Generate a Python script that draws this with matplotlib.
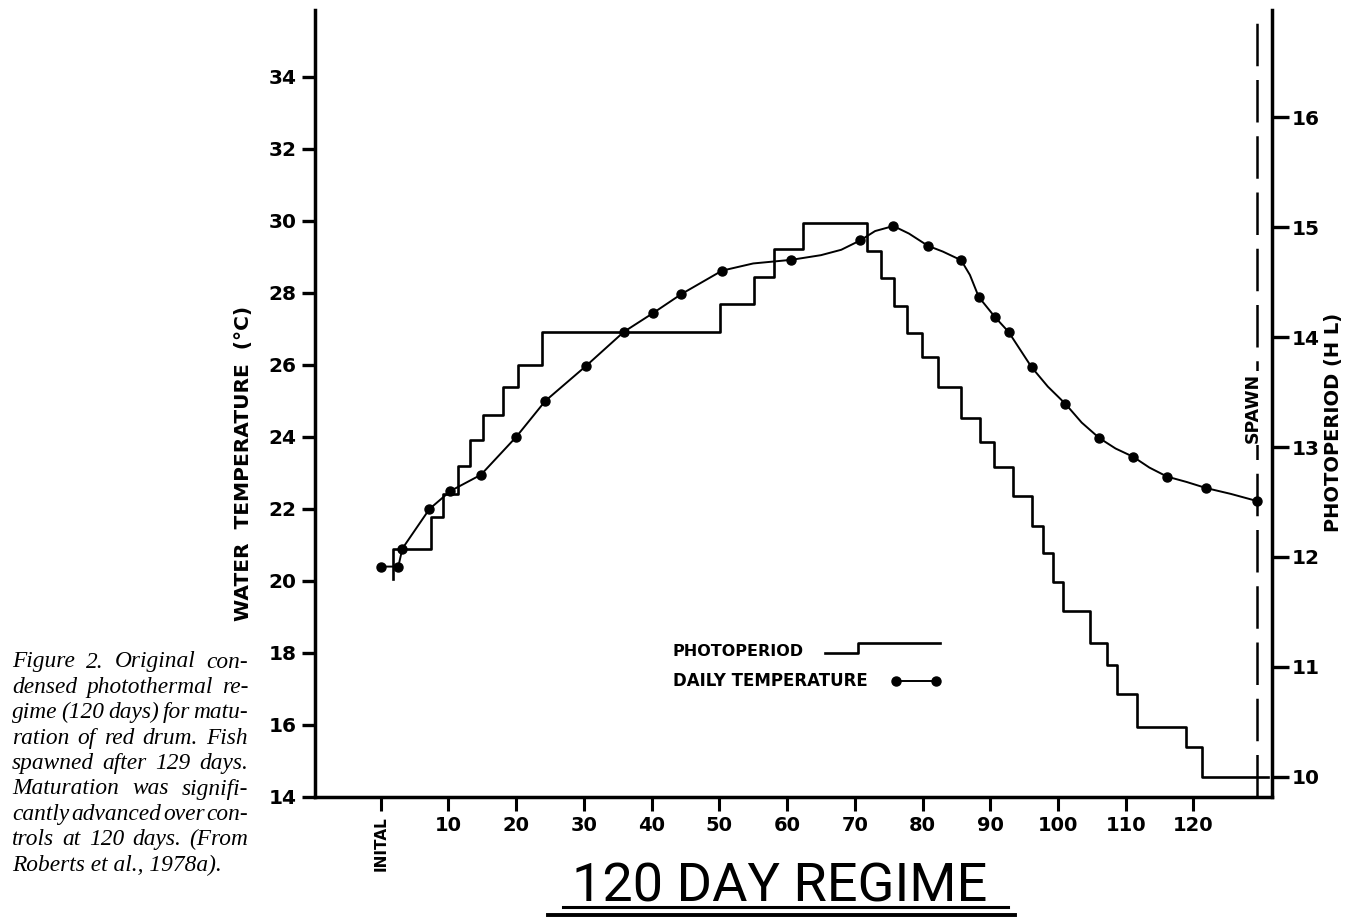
import matplotlib
matplotlib.use('Agg')
import matplotlib.pyplot as plt
from matplotlib.lines import Line2D

W, H = 1361, 919

# ---------------- data ----------------
# daily temperature measurement dots
temp_days = [0, 2.6, 3.2, 7.2, 10.3, 14.8, 20.0, 24.3, 30.3, 35.9, 40.2, 44.4, 50.4, 60.6,
             70.8, 75.7, 80.8, 85.7, 88.3, 90.7, 92.7, 96.1, 101.1, 106.1, 111.1, 116.1,
             121.9, 129.4]
temp_c = [20.4, 20.4, 20.9, 22.0, 22.5, 22.95, 24.0, 25.0, 25.97, 26.92, 27.44, 27.97,
          28.62, 28.92, 29.46, 29.86, 29.31, 28.91, 27.89, 27.33, 26.92, 25.94, 24.92,
          23.97, 23.45, 22.9, 22.58, 22.22]

# extra points
curve_days = [55.0, 65.0, 68.0, 73.0, 78.0, 83.0, 87.0, 98.5, 103.5, 108.5, 113.5,
              119.0, 125.5]
curve_c = [28.82, 29.05, 29.2, 29.72, 29.65, 29.15, 28.5, 25.4, 24.4, 23.68, 23.15,
           22.75, 22.42]

photo_days = [1.8, 1.8, 7.4, 9.2, 11.4, 13.2, 15.1, 18.1, 20.3, 23.8, 50.1, 55.1, 58.1,
              62.4, 71.8, 73.9, 75.8, 77.7, 79.9, 82.3, 85.7, 88.5, 90.6, 93.3, 96.2,
              97.8, 99.2, 100.8, 104.8, 107.3, 108.7, 111.7, 118.9, 121.3, 131.0]
photo_hours = [11.8, 12.07, 12.36, 12.57, 12.83, 13.06, 13.29, 13.55, 13.75, 14.05, 14.3,
               14.55, 14.8, 15.04, 14.78, 14.54, 14.28, 14.04, 13.82, 13.55, 13.26, 13.05,
               12.82, 12.55, 12.28, 12.04, 11.77, 11.51, 11.22, 11.02, 10.75, 10.45, 10.27,
               10.0, 10.0]

spawn_day = 129.4

x_ticks = [0, 10, 20, 30, 40, 50, 60, 70, 80, 90, 100, 110, 120]
x_labels = ['INITAL', '10', '20', '30', '40', '50', '60', '70', '80', '90', '100', '110', '120']
y_ticks = [14, 16, 18, 20, 22, 24, 26, 28, 30, 32, 34]
y2_ticks = [10, 11, 12, 13, 14, 15, 16]

caption_lines = [
    "Figure 2. Original con-",
    "densed photothermal re-",
    "gime (120 days) for matu-",
    "ration of red drum. Fish",
    "spawned after 129 days.",
    "Maturation was signifi-",
    "cantly advanced over con-",
    "trols at 120 days. (From",
    "Roberts et al., 1978a).",
]

# ---------------- figure ----------------
fig = plt.figure(figsize=(W / 100, H / 100), dpi=100)
fig.patch.set_facecolor('white')

def fx(px):
    return px / W

def fy(py):
    return 1 - py / H

L, R, T, B = 315, 1272, 10, 797
ax = fig.add_axes([fx(L), fy(B), (R - L) / W, (B - T) / H])
ax2 = ax.twinx()

ax.set_xlim(-9.7, 131.6)
ax.set_ylim(14, 35.86)
ax2.set_ylim(9.818, 16.973)

# photoperiod (right axis)
ax2.step(photo_days, photo_hours, where='post', color='black', lw=1.9, zorder=3)

# daily temperature (left axis): line through dots and curve readings, then dots
line_pts = sorted(zip(temp_days + curve_days, temp_c + curve_c))
ax.plot([p[0] for p in line_pts], [p[1] for p in line_pts], color='black', lw=1.4,
        zorder=4)
ax.plot(temp_days, temp_c, linestyle='none', color='black', marker='o', ms=6.5, zorder=4)

# spawn line
ax.axvline(spawn_day, ymin=0, ymax=0.993, color='black', lw=1.8,
           linestyle=(0, (17, 5.5)), zorder=2)
ax.text(spawn_day - 0.7, 24.8, 'SPAWN', rotation=90, ha='center', va='center',
        fontsize=12.5, fontweight='bold', family='DejaVu Sans',
        bbox=dict(facecolor='white', edgecolor='none', pad=1.5), zorder=5)

# spines
for a in (ax, ax2):
    a.spines['top'].set_visible(False)
    for s in ('left', 'right', 'bottom'):
        a.spines[s].set_linewidth(2.5)
ax.spines['right'].set_visible(False)
ax2.spines['left'].set_visible(False)
ax2.spines['bottom'].set_visible(False)

# ticks
ax.set_xticks(x_ticks)
ax.set_xticklabels(x_labels)
ax.set_yticks(y_ticks)
ax.set_yticklabels([str(v) for v in y_ticks])
ax2.set_yticks(y2_ticks)
ax2.set_yticklabels([str(v) for v in y2_ticks])

ax.tick_params(axis='x', direction='out', length=10, width=2.2, pad=4, labelsize=14)
ax.tick_params(axis='y', direction='out', length=9.5, width=2.4, pad=4, labelsize=14.5)
ax2.tick_params(axis='y', direction='out', length=12, width=2.4, pad=2, labelsize=14.5)
for lab in ax.get_xticklabels() + ax.get_yticklabels() + ax2.get_yticklabels():
    lab.set_fontweight('bold')

lab0 = ax.get_xticklabels()[0]
lab0.set_rotation(90)
lab0.set_fontsize(11)
lab0.set_va('top')

# axis labels
fig.text(fx(244), fy(463), 'WATER  TEMPERATURE  (°C)', rotation=90, ha='center',
         va='center', fontsize=14.5, fontweight='bold')
fig.text(fx(1333), fy(422), 'PHOTOPERIOD (H L)', rotation=90, ha='center',
         va='center', fontsize=14, fontweight='bold')

# legend (manual, as drawn on the original)
fig.text(fx(673), fy(652), 'PHOTOPERIOD', ha='left', va='center', fontsize=11.5,
         fontweight='bold')
fig.text(fx(673), fy(681), 'DAILY TEMPERATURE', ha='left', va='center', fontsize=12,
         fontweight='bold')
fig.add_artist(Line2D([fx(825), fx(858), fx(858), fx(940)],
                      [fy(653), fy(653), fy(643), fy(643)],
                      transform=fig.transFigure, color='black', lw=1.9))
fig.add_artist(Line2D([fx(896), fx(936)], [fy(681), fy(681)],
                      transform=fig.transFigure, color='black', lw=1.4,
                      marker='o', ms=6.5))

# title with double underline
fig.text(fx(780), fy(902), '120 DAY REGIME', ha='center', va='baseline',
         fontsize=39, family='Roboto', fontweight='normal')
fig.add_artist(Line2D([fx(563), fx(1008)], [fy(907), fy(907)],
                      transform=fig.transFigure, color='black', lw=2.2))
fig.add_artist(Line2D([fx(548), fx(1015)], [fy(915), fy(915)],
                      transform=fig.transFigure, color='black', lw=2.8))

# caption, justified
renderer = fig.canvas.get_renderer()
cap_left, cap_right = 12, 248
cap_top = 662
cap_step = 25.4
cap_font = dict(family='Liberation Serif', style='italic', fontsize=16.8)
for i, line in enumerate(caption_lines):
    yy = fy(cap_top + i * cap_step)
    words = line.split(' ')
    last = (i == len(caption_lines) - 1)
    if last or len(words) == 1:
        fig.text(fx(cap_left), yy, line, ha='left', va='center', **cap_font)
        continue
    texts = [fig.text(0, yy, w, ha='left', va='center', **cap_font) for w in words]
    widths = [t.get_window_extent(renderer).width for t in texts]
    gap = (cap_right - cap_left - sum(widths)) / (len(words) - 1)
    gap = max(gap, 1.0)
    xx = cap_left
    for t, w in zip(texts, widths):
        t.set_x(fx(xx))
        xx += w + gap

fig.savefig('out.png', dpi=100, facecolor='white')
